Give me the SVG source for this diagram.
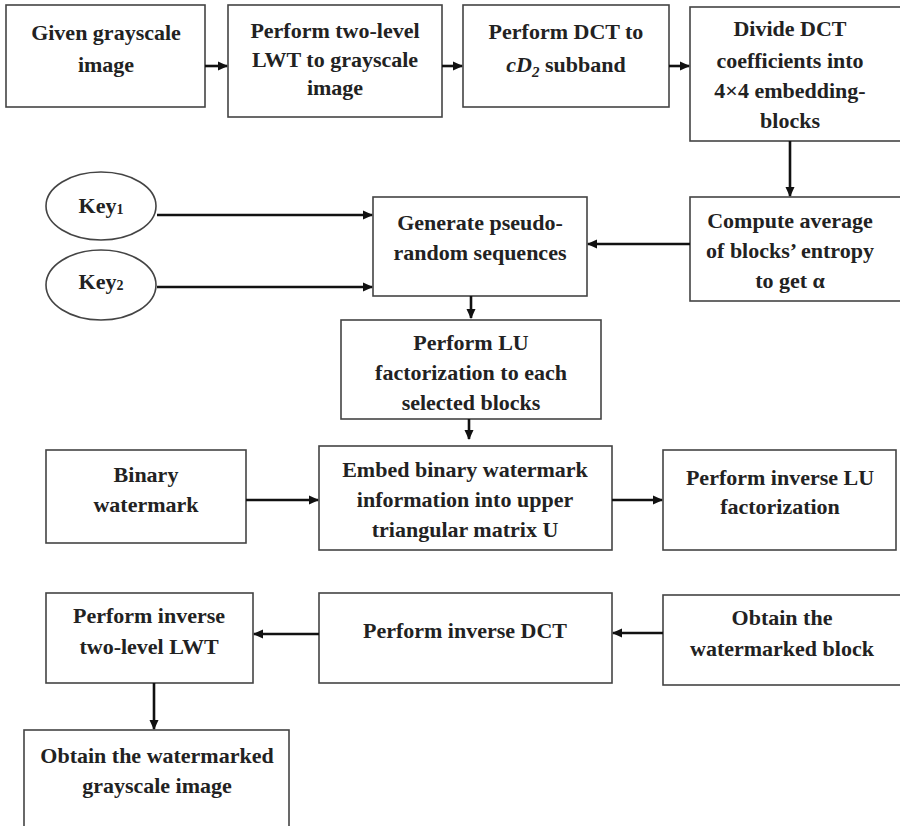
<svg xmlns="http://www.w3.org/2000/svg" width="900" height="826" viewBox="0 0 900 826">
<defs>
<style>
.box{fill:#fff;stroke:#444;stroke-width:1.6}
.t{font-family:"Liberation Serif","Times New Roman",serif;font-weight:bold;font-size:22px;fill:#222;text-anchor:middle}
.c{stroke:#111;stroke-width:2.6;fill:none;marker-end:url(#ah)}
</style>
<marker id="ah" markerWidth="12" markerHeight="12" refX="9" refY="6" orient="auto" markerUnits="userSpaceOnUse">
<path d="M0,1.5 L10,6 L0,10.5 Z" fill="#111"/>
</marker>
</defs>
<rect width="900" height="826" fill="#fff"/>

<g id="n1"><rect class="box" x="6" y="5" width="199" height="102"/>
<text class="t" x="106" y="40">Given grayscale</text><text class="t" x="106" y="72">image</text></g>

<g id="n2"><rect class="box" x="228" y="5" width="214" height="112"/>
<text class="t" x="335" y="38">Perform two-level</text><text class="t" x="335" y="67">LWT to grayscale</text><text class="t" x="335" y="95">image</text></g>

<g id="n3"><rect class="box" x="463" y="5" width="206" height="102"/>
<text class="t" x="566" y="39">Perform DCT to</text>
<text class="t" x="566" y="72"><tspan font-style="italic">cD</tspan><tspan font-size="15" dy="5" font-style="italic">2</tspan><tspan dy="-5"> subband</tspan></text></g>

<g id="n4"><rect class="box" x="690" y="7" width="215" height="134"/>
<text class="t" x="790" y="36">Divide DCT</text><text class="t" x="790" y="68">coefficients into</text><text class="t" x="790" y="98">4×4 embedding-</text><text class="t" x="790" y="128">blocks</text></g>

<g id="n5"><rect class="box" x="690" y="197" width="215" height="104"/>
<text class="t" x="790" y="228">Compute average</text><text class="t" x="790" y="258">of blocks’ entropy</text><text class="t" x="790" y="288">to get α</text></g>

<g id="k1"><ellipse class="box" cx="101" cy="206" rx="55" ry="34"/>
<text class="t" x="101" y="213">Key<tspan font-size="14" dy="1">1</tspan></text></g>

<g id="k2"><ellipse class="box" cx="101" cy="285" rx="55" ry="35"/>
<text class="t" x="101" y="289">Key<tspan font-size="14" dy="1">2</tspan></text></g>

<g id="n6"><rect class="box" x="373" y="197" width="214" height="99"/>
<text class="t" x="480" y="230">Generate pseudo-</text><text class="t" x="480" y="260">random sequences</text></g>

<g id="n7"><rect class="box" x="341" y="320" width="260" height="99"/>
<text class="t" x="471" y="350">Perform LU</text><text class="t" x="471" y="380">factorization  to each</text><text class="t" x="471" y="410">selected blocks</text></g>

<g id="n8"><rect class="box" x="46" y="450" width="200" height="93"/>
<text class="t" x="146" y="482">Binary</text><text class="t" x="146" y="512">watermark</text></g>

<g id="n9"><rect class="box" x="319" y="446" width="293" height="104"/>
<text class="t" x="465" y="477">Embed binary watermark</text><text class="t" x="465" y="507">information into upper</text><text class="t" x="465" y="537">triangular matrix U</text></g>

<g id="n10"><rect class="box" x="663" y="450" width="233" height="100"/>
<text class="t" x="780" y="485">Perform inverse LU</text><text class="t" x="780" y="514">factorization</text></g>

<g id="n11"><rect class="box" x="663" y="595" width="245" height="90"/>
<text class="t" x="782" y="625">Obtain the</text><text class="t" x="782" y="656">watermarked block</text></g>

<g id="n12"><rect class="box" x="319" y="593" width="293" height="90"/>
<text class="t" x="465" y="638">Perform inverse DCT</text></g>

<g id="n13"><rect class="box" x="46" y="593" width="207" height="90"/>
<text class="t" x="149" y="623">Perform inverse</text><text class="t" x="149" y="654">two-level LWT</text></g>

<g id="n14"><rect class="box" x="24" y="730" width="265" height="110"/>
<text class="t" x="157" y="763">Obtain the watermarked</text><text class="t" x="157" y="793">grayscale image</text></g>

<g id="connectors">
<line class="c" x1="205" y1="66" x2="227" y2="66"/>
<line class="c" x1="442" y1="66" x2="462" y2="66"/>
<line class="c" x1="669" y1="66" x2="689" y2="66"/>
<line class="c" x1="790" y1="141" x2="790" y2="196"/>
<line class="c" x1="690" y1="244" x2="588" y2="244"/>
<line class="c" x1="157" y1="215" x2="372" y2="215"/>
<line class="c" x1="157" y1="287" x2="372" y2="287"/>
<line class="c" x1="471" y1="296" x2="471" y2="318"/>
<line class="c" x1="469" y1="419" x2="469" y2="439"/>
<line class="c" x1="246" y1="500" x2="318" y2="500"/>
<line class="c" x1="612" y1="500" x2="662" y2="500"/>
<line class="c" x1="663" y1="633" x2="613" y2="633"/>
<line class="c" x1="319" y1="634" x2="254" y2="634"/>
<line class="c" x1="154" y1="683" x2="154" y2="729"/>
</g>
</svg>
